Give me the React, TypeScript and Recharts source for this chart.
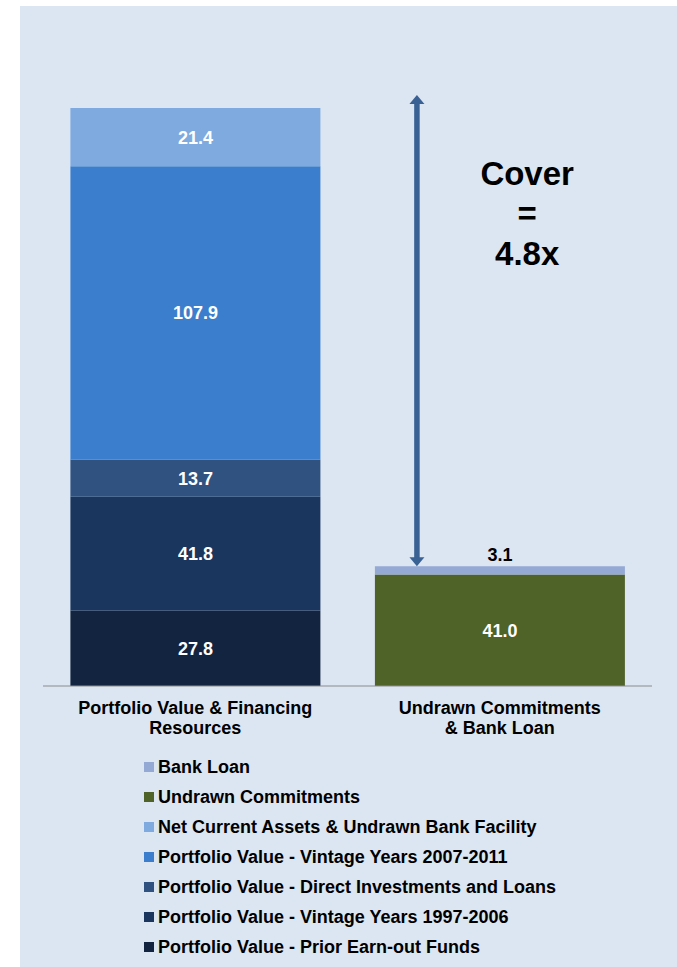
import React from "react";
import {
  BarChart,
  Bar,
  XAxis,
  YAxis,
  LabelList,
  Legend,
  ReferenceLine,
  ReferenceDot,
} from "recharts";

// ---- data ----
const categories = ["Portfolio Value & Financing Resources", "Undrawn Commitments & Bank Loan"];
const categoryLines = [
  ["Portfolio Value & Financing", "Resources"],
  ["Undrawn Commitments", "& Bank Loan"],
];
const priorEarnout = [27.8, null];
const vintage9706 = [41.8, null];
const directInvest = [13.7, null];
const vintage0711 = [107.9, null];
const netCurrent = [21.4, null];
const undrawn = [null, 41.0];
const bankLoan = [null, 3.1];

const coverText = ["Cover", "=", "4.8x"];
const yMax = 220;
// arrow spans from just above the left stack top down to the right stack top
const arrowTop = 217.4;
const arrowBottom = 44.1;
const arrowX = 1.228;
const coverX = 1.59;
const coverY = 184.3;

const FONT = "'Liberation Sans', Arial, Helvetica, sans-serif";

const series = [
  { key: "prior", name: "Portfolio Value - Prior Earn-out Funds", values: priorEarnout, color: "#132440", labelPos: "center" },
  { key: "v9706", name: "Portfolio Value - Vintage Years 1997-2006", values: vintage9706, color: "#1a365e", labelPos: "center" },
  { key: "direct", name: "Portfolio Value - Direct Investments and Loans", values: directInvest, color: "#2f5281", labelPos: "center" },
  { key: "v0711", name: "Portfolio Value - Vintage Years 2007-2011", values: vintage0711, color: "#3b7ecd", labelPos: "center" },
  { key: "net", name: "Net Current Assets & Undrawn Bank Facility", values: netCurrent, color: "#7eaadf", labelPos: "center" },
  { key: "undrawn", name: "Undrawn Commitments", values: undrawn, color: "#4f6228", labelPos: "center" },
  { key: "bank", name: "Bank Loan", values: bankLoan, color: "#94a9d3", labelPos: "top" },
];

const data = categories.map((c, i) => {
  const row: any = { name: c, pos: i + 0.5 };
  series.forEach((s) => {
    row[s.key] = s.values[i];
  });
  return row;
});

const CategoryTick = (props: any) => {
  const { x, y, payload } = props;
  const lines = categoryLines[payload.index] || [payload.value];
  return (
    <text x={x} y={y} textAnchor="middle" fontFamily={FONT} fontWeight="bold" fontSize={18} fill="#000">
      {lines.map((l: string, i: number) => (
        <tspan key={i} x={x} dy={i === 0 ? 27 : 20}>
          {l}
        </tspan>
      ))}
    </text>
  );
};

const makeLabel = (white: boolean) => (props: any) => {
  const { x, y, width, height, value } = props;
  if (value === null || value === undefined) return null;
  const cx = x + width / 2;
  if (white) {
    return (
      <text x={cx} y={y + height / 2} dy={6.5} textAnchor="middle" fontFamily={FONT} fontWeight="bold" fontSize={18} fill="#ffffff">
        {Number(value).toFixed(1)}
      </text>
    );
  }
  return (
    <text x={cx} y={y - 5} textAnchor="middle" fontFamily={FONT} fontWeight="bold" fontSize={18} fill="#000">
      {Number(value).toFixed(1)}
    </text>
  );
};

const ArrowShape = (props: any) => {
  const { x1, y1, x2, y2 } = props;
  const top = Math.min(y1, y2);
  const bottom = Math.max(y1, y2);
  const x = (x1 + x2) / 2;
  const c = "#3a6193";
  return (
    <g>
      <line x1={x} x2={x} y1={top + 6} y2={bottom - 6} stroke={c} strokeWidth={5.5} />
      <polygon points={`${x},${top} ${x - 7.5},${top + 9} ${x + 7.5},${top + 9}`} fill={c} />
      <polygon points={`${x},${bottom} ${x - 7.5},${bottom - 9} ${x + 7.5},${bottom - 9}`} fill={c} />
    </g>
  );
};

const CoverShape = (props: any) => {
  const { cx, cy } = props;
  return (
    <text x={cx} y={cy} textAnchor="middle" fontFamily={FONT} fontWeight="bold" fontSize={33} fill="#000">
      {coverText.map((t, i) => (
        <tspan key={i} x={cx} dy={i === 0 ? 0 : 40}>
          {t}
        </tspan>
      ))}
    </text>
  );
};

const LegendContent = () => {
  const items = [...series].reverse();
  return (
    <div style={{ paddingTop: 6, fontFamily: FONT, fontWeight: "bold", fontSize: 18, color: "#000" }}>
      {items.map((s) => (
        <div key={s.key} style={{ display: "flex", alignItems: "center", height: 30, whiteSpace: "nowrap" }}>
          <span style={{ display: "inline-block", width: 10, height: 10, background: s.color, marginRight: 4 }} />
          <span>{s.name}</span>
        </div>
      ))}
    </div>
  );
};

export default function App() {
  return (
    <div style={{ position: "absolute", left: 20, top: 6, width: 657, height: 961, background: "#dce6f2", overflow: "hidden" }}>
      <style>{"html,body{overflow:hidden;}"}</style>
      <BarChart
        width={657}
        height={961}
        data={data}
        margin={{ top: 82, right: 25, bottom: 11, left: 23 }}
        barCategoryGap="9%"
      >
        <XAxis
          xAxisId="cat"
          dataKey="name"
          axisLine={false}
          tickLine={false}
          tickSize={0}
          tickMargin={0}
          interval={0}
          height={59}
          tick={<CategoryTick />}
        />
        <XAxis
          dataKey="pos"
          type="number"
          domain={[0, 2]}
          allowDataOverflow
          ticks={[0, 1, 2]}
          tick={false}
          tickSize={5}
          axisLine={{ stroke: "#8c8c8c" }}
          tickLine={{ stroke: "#8c8c8c" }}
          height={1}
        />
        <YAxis hide domain={[0, yMax]} />
        {series.map((s) => (
          <Bar key={s.key} xAxisId="cat" dataKey={s.key} name={s.name} stackId="a" fill={s.color} isAnimationActive={false}>
            <LabelList dataKey={s.key} content={makeLabel(s.labelPos === "center")} />
          </Bar>
        ))}
        <ReferenceLine
          segment={[
            { x: arrowX, y: arrowTop },
            { x: arrowX, y: arrowBottom },
          ]}
          shape={<ArrowShape />}
        />
        <ReferenceDot x={coverX} y={coverY} r={0} shape={<CoverShape />} />
        <Legend
          verticalAlign="bottom"
          height={210}
          content={<LegendContent />}
          wrapperStyle={{ left: 124, width: "auto" }}
        />
      </BarChart>
    </div>
  );
}
